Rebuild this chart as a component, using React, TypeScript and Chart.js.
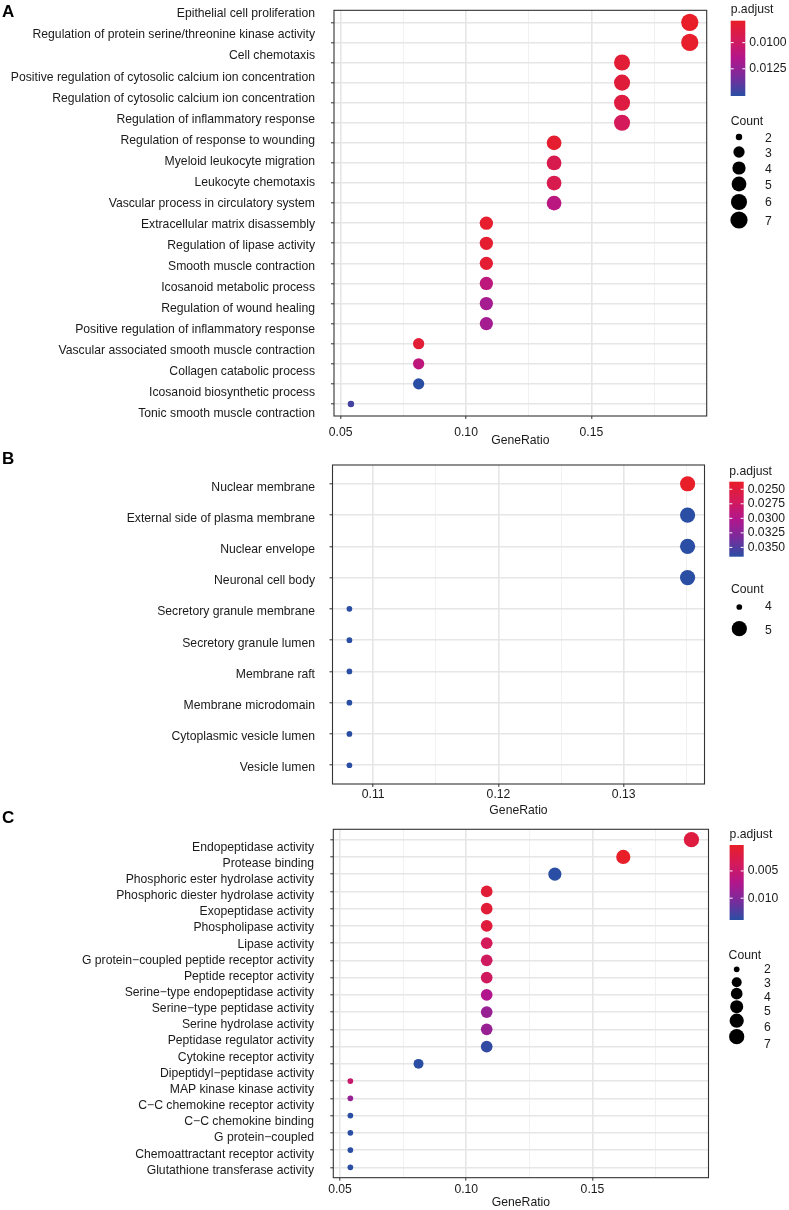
import React, { useEffect, useRef } from "react";
import { Chart, registerables } from "chart.js";
Chart.register(...registerables);

const FONT = "'Liberation Sans', Arial, Helvetica, sans-serif";
const TEXT = "#1a1a1a";
const FS = 12.2;

// ---------------- Panel A ----------------
const termsA = [
  "Epithelial cell proliferation",
  "Regulation of protein serine/threonine kinase activity",
  "Cell chemotaxis",
  "Positive regulation of cytosolic calcium ion concentration",
  "Regulation of cytosolic calcium ion concentration",
  "Regulation of inflammatory response",
  "Regulation of response to wounding",
  "Myeloid leukocyte migration",
  "Leukocyte chemotaxis",
  "Vascular process in circulatory system",
  "Extracellular matrix disassembly",
  "Regulation of lipase activity",
  "Smooth muscle contraction",
  "Icosanoid metabolic process",
  "Regulation of wound healing",
  "Positive regulation of inflammatory response",
  "Vascular associated smooth muscle contraction",
  "Collagen catabolic process",
  "Icosanoid biosynthetic process",
  "Tonic smooth muscle contraction",
];
const ratioA = [0.1892, 0.1892, 0.1622, 0.1622, 0.1622, 0.1622, 0.1351, 0.1351, 0.1351, 0.1351, 0.1081, 0.1081, 0.1081, 0.1081, 0.1081, 0.1081, 0.0811, 0.0811, 0.0811, 0.0541];
const countA = [7, 7, 6, 6, 6, 6, 5, 5, 5, 5, 4, 4, 4, 4, 4, 4, 3, 3, 3, 2];
const padjA = [0.0079, 0.008, 0.0084, 0.0086, 0.0088, 0.0097, 0.0082, 0.0093, 0.0093, 0.0111, 0.0081, 0.0082, 0.0083, 0.0109, 0.0119, 0.0119, 0.0084, 0.0109, 0.0151, 0.0145];
const xTicksA = [0.05, 0.1, 0.15];
const padjTicksA = ["0.0100", "0.0125"];
const countTicksA = [2, 3, 4, 5, 6, 7];

// ---------------- Panel B ----------------
const termsB = [
  "Nuclear membrane",
  "External side of plasma membrane",
  "Nuclear envelope",
  "Neuronal cell body",
  "Secretory granule membrane",
  "Secretory granule lumen",
  "Membrane raft",
  "Membrane microdomain",
  "Cytoplasmic vesicle lumen",
  "Vesicle lumen",
];
const ratioB = [0.1351, 0.1351, 0.1351, 0.1351, 0.1081, 0.1081, 0.1081, 0.1081, 0.1081, 0.1081];
const countB = [5, 5, 5, 5, 4, 4, 4, 4, 4, 4];
const padjB = [0.0237, 0.0366, 0.0366, 0.0366, 0.0366, 0.0366, 0.0366, 0.0366, 0.0366, 0.0366];
const xTicksB = [0.11, 0.12, 0.13];
const padjTicksB = ["0.0250", "0.0275", "0.0300", "0.0325", "0.0350"];
const countTicksB = [4, 5];

// ---------------- Panel C ----------------
const termsC = [
  "Endopeptidase activity",
  "Protease binding",
  "Phosphoric ester hydrolase activity",
  "Phosphoric diester hydrolase activity",
  "Exopeptidase activity",
  "Phospholipase activity",
  "Lipase activity",
  "G protein\u2212coupled peptide receptor activity",
  "Peptide receptor activity",
  "Serine\u2212type endopeptidase activity",
  "Serine\u2212type peptidase activity",
  "Serine hydrolase activity",
  "Peptidase regulator activity",
  "Cytokine receptor activity",
  "Dipeptidyl\u2212peptidase activity",
  "MAP kinase kinase activity",
  "C\u2212C chemokine receptor activity",
  "C\u2212C chemokine binding",
  "G protein\u2212coupled",
  "Chemoattractant receptor activity",
  "Glutathione transferase activity",
];
const ratioC = [0.1892, 0.1622, 0.1351, 0.1081, 0.1081, 0.1081, 0.1081, 0.1081, 0.1081, 0.1081, 0.1081, 0.1081, 0.1081, 0.0811, 0.0541, 0.0541, 0.0541, 0.0541, 0.0541, 0.0541];
const countC = [7, 6, 5, 4, 4, 4, 4, 4, 4, 4, 4, 4, 4, 3, 2, 2, 2, 2, 2, 2];
const padjC = [0.0019, 0.00024, 0.014, 0.0013, 0.0013, 0.0016, 0.0037, 0.0041, 0.0041, 0.0071, 0.0087, 0.0087, 0.0136, 0.014, 0.005, 0.0087, 0.014, 0.014, 0.014, 0.014];
const xTicksC = [0.05, 0.1, 0.15];
const padjTicksC = ["0.005", "0.010"];
const countTicksC = [2, 3, 4, 5, 6, 7];

// ---------------- colour scale (low p = red, high p = blue) ----------------
const STOPS: [number, number[]][] = [
  [0, [232, 30, 40]],
  [0.25, [212, 26, 90]],
  [0.5, [178, 22, 140]],
  [0.75, [120, 44, 156]],
  [1, [42, 78, 163]],
];
function colorAt(t: number) {
  t = Math.max(0, Math.min(1, t));
  for (let i = 1; i < STOPS.length; i++) {
    const [t1, c1] = STOPS[i];
    const [t0, c0] = STOPS[i - 1];
    if (t <= t1) {
      const f = (t - t0) / (t1 - t0);
      const c = c0.map((v, j) => Math.round(v + (c1[j] - v) * f));
      return `rgb(${c[0]},${c[1]},${c[2]})`;
    }
  }
  const c = STOPS[STOPS.length - 1][1];
  return `rgb(${c[0]},${c[1]},${c[2]})`;
}

type Leg = {
  titleX: number; titleY: number;
  barX: number; barY: number; barW: number; barH: number;
  countTitleX: number; countTitleY: number;
  circX: number; circY: number[]; labX: number; labY: number[];
};
type Cfg = {
  top: number; h: number;
  area: { l: number; r: number; t: number; b: number };
  labels: string[]; labelFirst: number; labelStep: number; labelRight: number;
  ratio: number[]; count: number[]; padj: number[];
  xTicks: number[]; padjTicks: string[]; countTicks: number[];
  k: number; tickPad: number; titleY: number;
  letter: string; letterY: number; leg: Leg;
};

const panels: Cfg[] = [
  {
    top: 0, h: 455,
    area: { l: 334, r: 706.7, t: 8, b: 416 },
    labels: termsA, labelFirst: 11.7, labelStep: 21.17, labelRight: 315,
    ratio: ratioA, count: countA, padj: padjA,
    xTicks: xTicksA, padjTicks: padjTicksA, countTicks: countTicksA,
    k: 2.15, tickPad: 6.0, titleY: 441,
    letter: "A", letterY: 12,
    leg: {
      titleX: 730.7, titleY: 9.5, barX: 730.7, barY: 20.7, barW: 14.6, barH: 75.3,
      countTitleX: 730.7, countTitleY: 121.7,
      circX: 739, circY: [137, 152, 168, 184, 202, 220], labX: 765, labY: [138.3, 154, 169.3, 185.7, 202.7, 221.7],
    },
  },
  {
    top: 440, h: 380,
    area: { l: 332.5, r: 704.5, t: 465, b: 784 },
    labels: termsB, labelFirst: 488, labelStep: 31.03, labelRight: 315,
    ratio: ratioB, count: countB, padj: padjB,
    xTicks: xTicksB, padjTicks: padjTicksB, countTicks: countTicksB,
    k: 1.9, tickPad: 0.6, titleY: 811,
    letter: "B", letterY: 459.5,
    leg: {
      titleX: 729.3, titleY: 471.7, barX: 729.3, barY: 481.7, barW: 14.4, barH: 75,
      countTitleX: 731, countTitleY: 589.3,
      circX: 739.3, circY: [607, 628.7], labX: 765, labY: [607, 630.7],
    },
  },
  {
    top: 800, h: 410,
    area: { l: 333.3, r: 708.5, t: 829.3, b: 1178.3 },
    labels: termsC, labelFirst: 847.3, labelStep: 16.18, labelRight: 314,
    ratio: ratioC, count: countC, padj: padjC,
    xTicks: xTicksC, padjTicks: padjTicksC, countTicks: countTicksC,
    k: 1.9, tickPad: 1.6, titleY: 1203.3,
    letter: "C", letterY: 818.3,
    leg: {
      titleX: 729.6, titleY: 835, barX: 729.6, barY: 845, barW: 14.1, barH: 75,
      countTitleX: 728.6, countTitleY: 955.7,
      circX: 736.7, circY: [969.3, 982.3, 993.7, 1006.7, 1020.7, 1036.7], labX: 764, labY: [970, 983.7, 997.3, 1011.3, 1027.3, 1044.7],
    },
  },
];

function Panel({ cfg }: { cfg: Cfg }) {
  const ref = useRef<HTMLCanvasElement>(null);
  useEffect(() => {
    const canvas = ref.current!;
    const a = cfg.area;
    const n = cfg.ratio.length;
    const rmin = Math.min(...cfg.ratio);
    const rmax = Math.max(...cfg.ratio);
    const span = rmax - rmin;
    const xmin = rmin - 0.05 * span;
    const xmax = rmax + 0.05 * span;
    const step = cfg.xTicks[1] - cfg.xTicks[0];
    const minors: number[] = [];
    [cfg.xTicks[0] - step, ...cfg.xTicks].forEach((v) => {
      const m = v + step / 2;
      if (m > xmin && m < xmax) minors.push(m);
    });
    const pmin = Math.min(...cfg.padj);
    const pmax = Math.max(...cfg.padj);
    const cmin = Math.min(...cfg.count);
    const cmax = Math.max(...cfg.count);
    const sizeOf = (c: number) =>
      cmax === cmin ? 8 : 3 + 5 * Math.sqrt((c - cmin) / (cmax - cmin));
    const radius = (c: number) => (sizeOf(c) * cfg.k) / 2;

    const lh = FS * 1.2;
    const xH = cfg.titleY + lh / 2 - a.b;
    const W2 = cfg.labelRight + 3;
    const W1 = a.l - W2;
    const lmin = (a.t - cfg.labelFirst) / cfg.labelStep;
    const lmax = (a.b - cfg.labelFirst) / cfg.labelStep;
    const off = cfg.top;

    const deco = {
      id: "deco" + cfg.letter,
      afterDraw(chart: any) {
        const ctx = chart.ctx as CanvasRenderingContext2D;
        const ca = chart.chartArea;
        const L = cfg.leg;
        ctx.save();
        ctx.strokeStyle = "#333";
        ctx.lineWidth = 1.1;
        ctx.strokeRect(ca.left, ca.top, ca.right - ca.left, ca.bottom - ca.top);

        ctx.fillStyle = "#000";
        ctx.font = `bold 17px ${FONT}`;
        ctx.textAlign = "left";
        ctx.textBaseline = "middle";
        ctx.fillText(cfg.letter, 2, cfg.letterY - off);

        ctx.font = `${FS}px ${FONT}`;
        ctx.fillStyle = TEXT;
        ctx.fillText("p.adjust", L.titleX, L.titleY - off);

        const by = L.barY - off;
        const g = ctx.createLinearGradient(0, by, 0, by + L.barH);
        STOPS.forEach(([t]) => g.addColorStop(t, colorAt(t)));
        ctx.fillStyle = g;
        ctx.fillRect(L.barX, by, L.barW, L.barH);
        ctx.strokeStyle = "#fff";
        ctx.lineWidth = 1;
        ctx.fillStyle = TEXT;
        cfg.padjTicks.forEach((s) => {
          const v = parseFloat(s);
          const y = by + ((v - pmin) / (pmax - pmin)) * L.barH;
          ctx.beginPath();
          ctx.moveTo(L.barX, y);
          ctx.lineTo(L.barX + 3, y);
          ctx.moveTo(L.barX + L.barW - 3, y);
          ctx.lineTo(L.barX + L.barW, y);
          ctx.stroke();
          ctx.fillText(s, L.barX + L.barW + 4, y);
        });

        ctx.fillText("Count", L.countTitleX, L.countTitleY - off);
        cfg.countTicks.forEach((c, i) => {
          ctx.fillStyle = "#000";
          ctx.beginPath();
          ctx.arc(L.circX, L.circY[i] - off, radius(c), 0, Math.PI * 2);
          ctx.fill();
          ctx.fillStyle = TEXT;
          ctx.fillText(String(c), L.labX, L.labY[i] - off);
        });
        ctx.restore();
      },
    };

    const chart = new Chart(canvas, {
      type: "scatter",
      data: {
        datasets: [
          {
            data: cfg.ratio.map((x, i) => ({ x, y: i })),
            pointBackgroundColor: cfg.padj.map((p) => colorAt((p - pmin) / (pmax - pmin))),
            pointBorderWidth: 0,
            pointBorderColor: "rgba(0,0,0,0)",
            pointRadius: cfg.count.map((c) => radius(c)),
            pointHoverRadius: cfg.count.map((c) => radius(c)),
          },
        ],
      },
      options: {
        responsive: false,
        animation: false,
        events: [],
        layout: {
          padding: {
            left: 0,
            top: a.t - off,
            right: 789 - a.r,
            bottom: Math.max(0, cfg.h - (a.b - off) - xH),
          },
        },
        plugins: { legend: { display: false }, tooltip: { enabled: false } },
        scales: {
          x2: {
            type: "linear",
            position: "bottom",
            min: xmin,
            max: xmax,
            bounds: "data",
            weight: 1,
            afterBuildTicks: (s: any) => {
              s.ticks = minors.map((v) => ({ value: v }));
            },
            ticks: { display: false },
            grid: { color: "#EFEFEF", lineWidth: 0.9, drawTicks: false },
            border: { display: false },
            afterFit: (s: any) => {
              s.height = 0;
            },
          },
          x: {
            type: "linear",
            position: "bottom",
            min: xmin,
            max: xmax,
            bounds: "data",
            weight: 0,
            afterBuildTicks: (s: any) => {
              s.ticks = cfg.xTicks.map((v) => ({ value: v }));
            },
            ticks: {
              callback: (v: any) => Number(v).toFixed(2),
              font: { family: FONT, size: FS },
              color: TEXT,
              padding: cfg.tickPad,
              maxRotation: 0,
              autoSkip: false,
            },
            grid: { color: "#E6E6E6", lineWidth: 1.6, tickColor: "#333", tickLength: 3, tickWidth: 1 },
            border: { display: false },
            title: {
              display: true,
              text: "GeneRatio",
              font: { family: FONT, size: FS },
              color: TEXT,
              padding: 0,
            },
            afterFit: (s: any) => {
              s.height = xH;
            },
          },
          y: {
            type: "linear",
            position: "left",
            reverse: true,
            min: -0.6,
            max: n - 0.4,
            bounds: "data",
            weight: 0,
            afterBuildTicks: (s: any) => {
              s.ticks = cfg.ratio.map((_, i) => ({ value: i }));
            },
            ticks: { callback: () => "", autoSkip: false },
            grid: { color: "#E6E6E6", lineWidth: 1.6, tickColor: "#333", tickLength: 3, tickWidth: 1 },
            border: { display: false },
            afterFit: (s: any) => {
              s.width = W1;
            },
          },
          y2: {
            type: "linear",
            position: "left",
            reverse: true,
            min: lmin,
            max: lmax,
            bounds: "data",
            weight: 1,
            afterBuildTicks: (s: any) => {
              s.ticks = cfg.labels.map((_, i) => ({ value: i }));
            },
            ticks: {
              callback: (v: any) => cfg.labels[Math.round(Number(v))] ?? "",
              font: { family: FONT, size: FS },
              color: TEXT,
              padding: 3,
              autoSkip: false,
            },
            grid: { display: false, drawTicks: false },
            border: { display: false },
            afterFit: (s: any) => {
              s.width = W2;
            },
          },
        },
      } as any,
      plugins: [deco],
    });
    return () => chart.destroy();
  }, [cfg]);
  return (
    <canvas
      ref={ref}
      width={789}
      height={cfg.h}
      style={{ position: "absolute", left: 0, top: cfg.top, width: 789, height: cfg.h }}
    />
  );
}

export default function App() {
  return (
    <div style={{ position: "absolute", left: 0, top: 0, width: 789, height: 1210, background: "#fff" }}>
      {panels.map((p) => (
        <Panel key={p.letter} cfg={p} />
      ))}
    </div>
  );
}
